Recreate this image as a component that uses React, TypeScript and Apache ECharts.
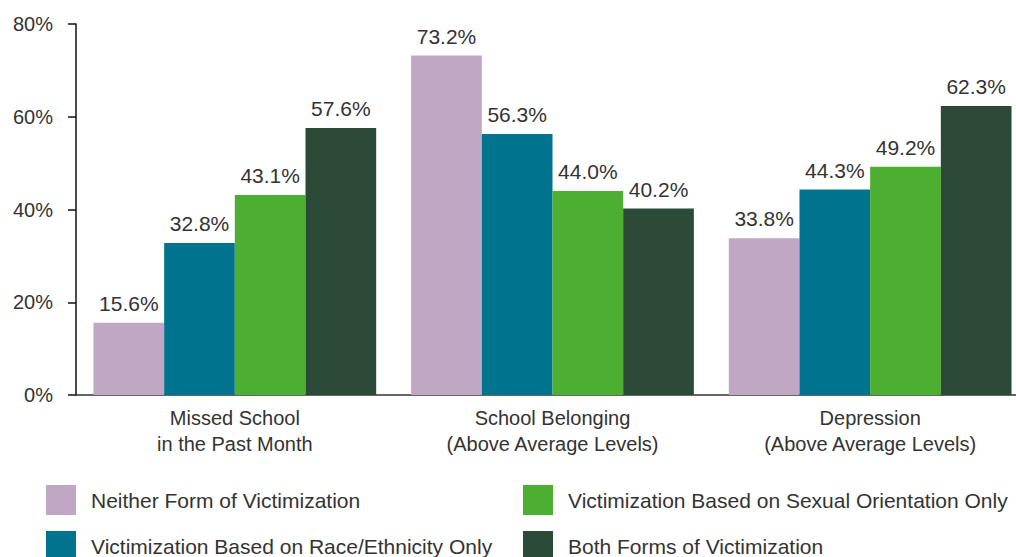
import React, { useEffect, useRef } from "react";
import * as echarts from "echarts";

const categories = ["Missed School\nin the Past Month", "School Belonging\n(Above Average Levels)", "Depression\n(Above Average Levels)"];
const seriesNames = [
  "Neither Form of Victimization",
  "Victimization Based on Race/Ethnicity Only",
  "Victimization Based on Sexual Orientation Only",
  "Both Forms of Victimization",
];
const neither = [15.6, 73.2, 33.8];
const raceOnly = [32.8, 56.3, 44.3];
const sexualOnly = [43.1, 44.0, 49.2];
const both = [57.6, 40.2, 62.3];
const colors = ["#C0A7C4", "#00748E", "#4CAF32", "#2B4A37"];
const yTicks = [0, 20, 40, 60, 80];

const FONT = "Liberation Sans";
const TEXT = "#333333";

export default function App() {
  const ref = useRef<HTMLDivElement>(null);
  useEffect(() => {
    const chart = echarts.init(ref.current!, null, { renderer: "svg" });
    const values = [neither, raceOnly, sexualOnly, both];
    const legendPos = [
      { left: 46, top: 485 },
      { left: 46, top: 531 },
      { left: 523, top: 485 },
      { left: 523, top: 531 },
    ];
    chart.setOption({
      animation: false,
      textStyle: { fontFamily: FONT },
      grid: { left: 76, top: 24, width: 953, height: 371, containLabel: false },
      xAxis: {
        type: "category",
        data: categories,
        axisLine: { lineStyle: { color: "#333", width: 1.5 } },
        axisTick: { show: false },
        axisLabel: { color: TEXT, fontSize: 20, lineHeight: 26, margin: 10, fontFamily: FONT },
      },
      yAxis: {
        type: "value",
        min: yTicks[0],
        max: yTicks[yTicks.length - 1],
        interval: 20,
        splitLine: { show: false },
        axisLine: { show: true, lineStyle: { color: "#111", width: 1.5 } },
        axisTick: { show: true, length: 8, lineStyle: { color: "#111", width: 1.5 } },
        axisLabel: { color: TEXT, fontSize: 20, margin: 23, formatter: "{value}%", fontFamily: FONT },
      },
      legend: seriesNames.map((name, i) => ({
        orient: "horizontal",
        left: legendPos[i].left,
        top: legendPos[i].top,
        padding: 0,
        itemWidth: 30,
        itemHeight: 30,
        icon: "rect",
        data: [name],
        textStyle: { color: TEXT, fontSize: 21, padding: [0, 0, 0, 10], fontFamily: FONT },
      })),
      series: seriesNames.map((name, i) => ({
        name,
        type: "bar",
        data: values[i],
        barGap: "0%",
        barCategoryGap: "11%",
        itemStyle: { color: colors[i] },
        label: {
          show: true,
          position: "top",
          distance: 9,
          color: TEXT,
          fontSize: 21,
          fontFamily: FONT,
          formatter: (p: any) => p.value.toFixed(1) + "%",
        },
      })),
    });
    return () => chart.dispose();
  }, []);
  return (
    <div style={{ width: 1016, height: 557, position: "absolute", left: 0, top: 0, overflow: "hidden" }}>
      <div ref={ref} style={{ width: 1040, height: 557 }} />
    </div>
  );
}
